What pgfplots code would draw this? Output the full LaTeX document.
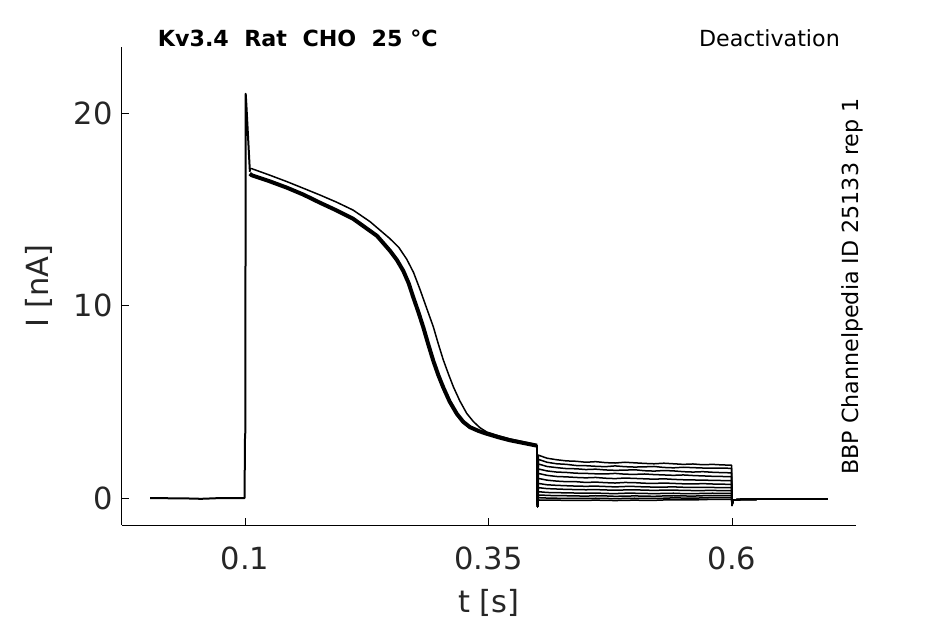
\documentclass[border=0pt]{standalone}
\usepackage{fontspec}
\setmainfont{DejaVu Sans}
\usepackage{pgfplots}
\usepackage{pgfplotstable}
\pgfplotsset{compat=1.18}
\usetikzlibrary{calc}
\definecolor{tickgray}{HTML}{262626}

\pgfplotstableread{
t I
0.0025 0.00
0.0200 -0.01
0.0400 -0.02
0.0550 -0.04
0.0700 -0.01
0.0850 0.00
0.0995 0.00
0.1000 3.20
0.1003 3.40
0.1007 21.00
0.1013 20.50
0.1050 16.95
}\pre

\pgfplotstableread{
t I
0.1048 16.85
0.1072 16.76
0.1250 16.46
0.1431 16.12
0.1600 15.76
0.1770 15.34
0.1940 14.94
0.2109 14.51
0.2283 13.88
0.2355 13.62
0.2489 12.84
0.2560 12.36
0.2625 11.80
0.2680 11.16
0.2728 10.42
0.2780 9.66
0.2831 8.86
0.2880 8.01
0.2933 7.13
0.2985 6.38
0.3036 5.74
0.3100 5.02
0.3174 4.38
0.3240 3.96
0.3310 3.68
0.3400 3.48
0.3482 3.34
0.3600 3.16
0.3721 3.00
0.3850 2.87
0.3978 2.74
0.3998 2.72
}\bundle

\pgfplotstableread{
t I
0.1050 17.12
0.1069 17.11
0.1250 16.78
0.1428 16.44
0.1600 16.09
0.1770 15.74
0.1940 15.37
0.2109 14.96
0.2283 14.36
0.2489 13.47
0.2580 13.01
0.2660 12.41
0.2730 11.72
0.2797 10.83
0.2865 9.86
0.2933 8.90
0.2985 8.00
0.3036 7.17
0.3088 6.45
0.3139 5.78
0.3205 5.05
0.3276 4.40
0.3345 3.97
0.3413 3.65
0.3482 3.43
0.3600 3.24
0.3721 3.07
0.3850 2.93
0.3978 2.79
0.3998 2.76
}\upper

\pgfplotstableread{
t d1 d2 d3 d4 d5 d6 d7 d8 d9 d10 d11 d12
0.3998 2.72 2.72 2.72 2.72 2.72 2.72 2.72 2.72 2.72 2.72 2.72 2.72
0.4003 -0.45 -0.45 -0.45 -0.45 -0.45 -0.45 -0.45 -0.45 -0.45 -0.45 -0.45 -0.45
0.4012 2.23 2.01 1.77 1.51 1.28 1.02 0.76 0.54 0.33 0.16 0.02 -0.10
0.4100 2.07 1.86 1.64 1.41 1.18 0.93 0.69 0.49 0.29 0.14 0.00 -0.11
0.4200 1.99 1.78 1.58 1.35 1.12 0.88 0.66 0.47 0.28 0.12 -0.01 -0.11
0.4300 1.93 1.75 1.53 1.33 1.10 0.85 0.64 0.45 0.27 0.12 -0.02 -0.12
0.4400 1.91 1.69 1.52 1.29 1.07 0.85 0.62 0.44 0.26 0.11 -0.02 -0.12
0.4500 1.86 1.68 1.48 1.28 1.05 0.81 0.61 0.43 0.25 0.10 -0.02 -0.12
0.4600 1.89 1.65 1.50 1.26 1.07 0.83 0.62 0.44 0.26 0.12 -0.01 -0.11
0.4700 1.84 1.63 1.46 1.25 1.03 0.80 0.60 0.42 0.24 0.11 -0.02 -0.12
0.4800 1.82 1.67 1.44 1.28 1.01 0.78 0.58 0.41 0.23 0.09 -0.03 -0.13
0.4900 1.86 1.63 1.45 1.24 1.04 0.81 0.60 0.42 0.25 0.10 -0.02 -0.12
0.5000 1.83 1.61 1.47 1.23 1.02 0.80 0.60 0.43 0.25 0.11 -0.01 -0.11
0.5100 1.80 1.62 1.42 1.25 1.00 0.77 0.58 0.41 0.24 0.10 -0.02 -0.12
0.5200 1.78 1.64 1.40 1.22 0.98 0.76 0.57 0.40 0.23 0.09 -0.02 -0.12
0.5300 1.81 1.59 1.43 1.20 1.00 0.78 0.57 0.41 0.24 0.11 -0.01 -0.10
0.5400 1.78 1.57 1.41 1.18 0.97 0.76 0.58 0.41 0.25 0.12 0.01 -0.09
0.5500 1.75 1.60 1.37 1.20 0.95 0.74 0.56 0.40 0.23 0.11 0.00 -0.10
0.5600 1.77 1.58 1.35 1.17 0.94 0.73 0.55 0.39 0.23 0.10 -0.01 -0.10
0.5700 1.73 1.56 1.37 1.15 0.93 0.75 0.56 0.39 0.24 0.12 0.01 -0.08
0.5800 1.75 1.55 1.34 1.13 0.92 0.73 0.55 0.40 0.25 0.13 0.02 -0.07
0.5900 1.72 1.56 1.32 1.12 0.91 0.72 0.54 0.38 0.24 0.12 0.02 -0.07
0.5995 1.71 1.54 1.31 1.11 0.90 0.71 0.54 0.38 0.24 0.12 0.02 -0.07
0.6000 -0.38 -0.38 -0.38 -0.38 -0.38 -0.38 -0.38 -0.38 -0.38 -0.38 -0.38 -0.38
0.6010 -0.10 -0.10 -0.10 -0.10 -0.10 -0.10 -0.10 -0.10 -0.10 -0.10 -0.10 -0.10
0.6100 -0.07 -0.07 -0.07 -0.07 -0.07 -0.07 -0.07 -0.07 -0.07 -0.07 -0.07 -0.07
0.6300 -0.06 -0.06 -0.06 -0.06 -0.06 -0.06 -0.06 -0.06 -0.06 -0.06 -0.06 -0.06
0.6600 -0.05 -0.05 -0.05 -0.05 -0.05 -0.05 -0.05 -0.05 -0.05 -0.05 -0.05 -0.05
0.6985 -0.04 -0.04 -0.04 -0.04 -0.04 -0.04 -0.04 -0.04 -0.04 -0.04 -0.04 -0.04
}\deact

\begin{document}
\begin{tikzpicture}[x=1pt,y=1pt]
\begin{axis}[
  scale only axis, width=734pt, height=478pt,
  xmin=-0.0263, xmax=0.7273, ymin=-1.40, ymax=23.43,
  axis x line*=bottom, axis y line*=left,
  axis line style={line width=1pt, black},
  xtick={0.1,0.35,0.6}, xticklabels={0.1,0.35,0.6},
  ytick={0,10,20}, yticklabels={0,10,20},
  tick align=inside, major tick length=7pt,
  every tick/.style={black, line width=1pt},
  tick label style={font=\fontsize{30.5}{30.5}\selectfont, text=tickgray},
  xticklabel style={yshift=-18pt},
  yticklabel style={xshift=-6pt},
  xlabel={t [s]}, ylabel={I [nA]},
  label style={font=\fontsize{30.5}{30.5}\selectfont, text=tickgray},
  xlabel style={at={(axis description cs:0.5,-0.1632)}, anchor=center},
  ylabel style={at={(axis description cs:-0.1131,0.5)}, anchor=center},
  clip=false,
  trace/.style={black, line width=1.5pt, line join=round},
]
\coordinate (LL) at (rel axis cs:0,0);
\addplot[trace] table[x=t,y=d1]{\deact};
\addplot[trace] table[x=t,y=d2]{\deact};
\addplot[trace] table[x=t,y=d3]{\deact};
\addplot[trace] table[x=t,y=d4]{\deact};
\addplot[trace] table[x=t,y=d5]{\deact};
\addplot[trace] table[x=t,y=d6]{\deact};
\addplot[trace] table[x=t,y=d7]{\deact};
\addplot[trace] table[x=t,y=d8]{\deact};
\addplot[trace] table[x=t,y=d9]{\deact};
\addplot[trace] table[x=t,y=d10]{\deact};
\addplot[trace] table[x=t,y=d11]{\deact};
\addplot[trace] table[x=t,y=d12]{\deact};
\addplot[black, line width=4pt, line join=round] table[x=t,y=I]{\bundle};
\addplot[trace] table[x=t,y=I]{\upper};
\addplot[black, line width=2pt, line join=round] table[x=t,y=I]{\pre};
\end{axis}
\pgfresetboundingbox
\path[use as bounding box] ($(LL)+(-122,-99)$) rectangle ++(945,624);
\node[anchor=base west, inner sep=0, font=\fontsize{22.2}{22.2}\selectfont\bfseries] at ($(LL)+(35.7,478.3)$) {Kv3.4\ \ Rat\ \ CHO\ \ 25 °C};
\node[anchor=base east, inner sep=0, font=\fontsize{22.2}{22.2}\selectfont] at ($(LL)+(718,478.3)$) {Deactivation};
\node[anchor=base, rotate=90, inner sep=0, font=\fontsize{22.2}{22.2}\selectfont] at ($(LL)+(736.5,238.5)$) {BBP Channelpedia ID 25133 rep 1};
\end{tikzpicture}
\end{document}
